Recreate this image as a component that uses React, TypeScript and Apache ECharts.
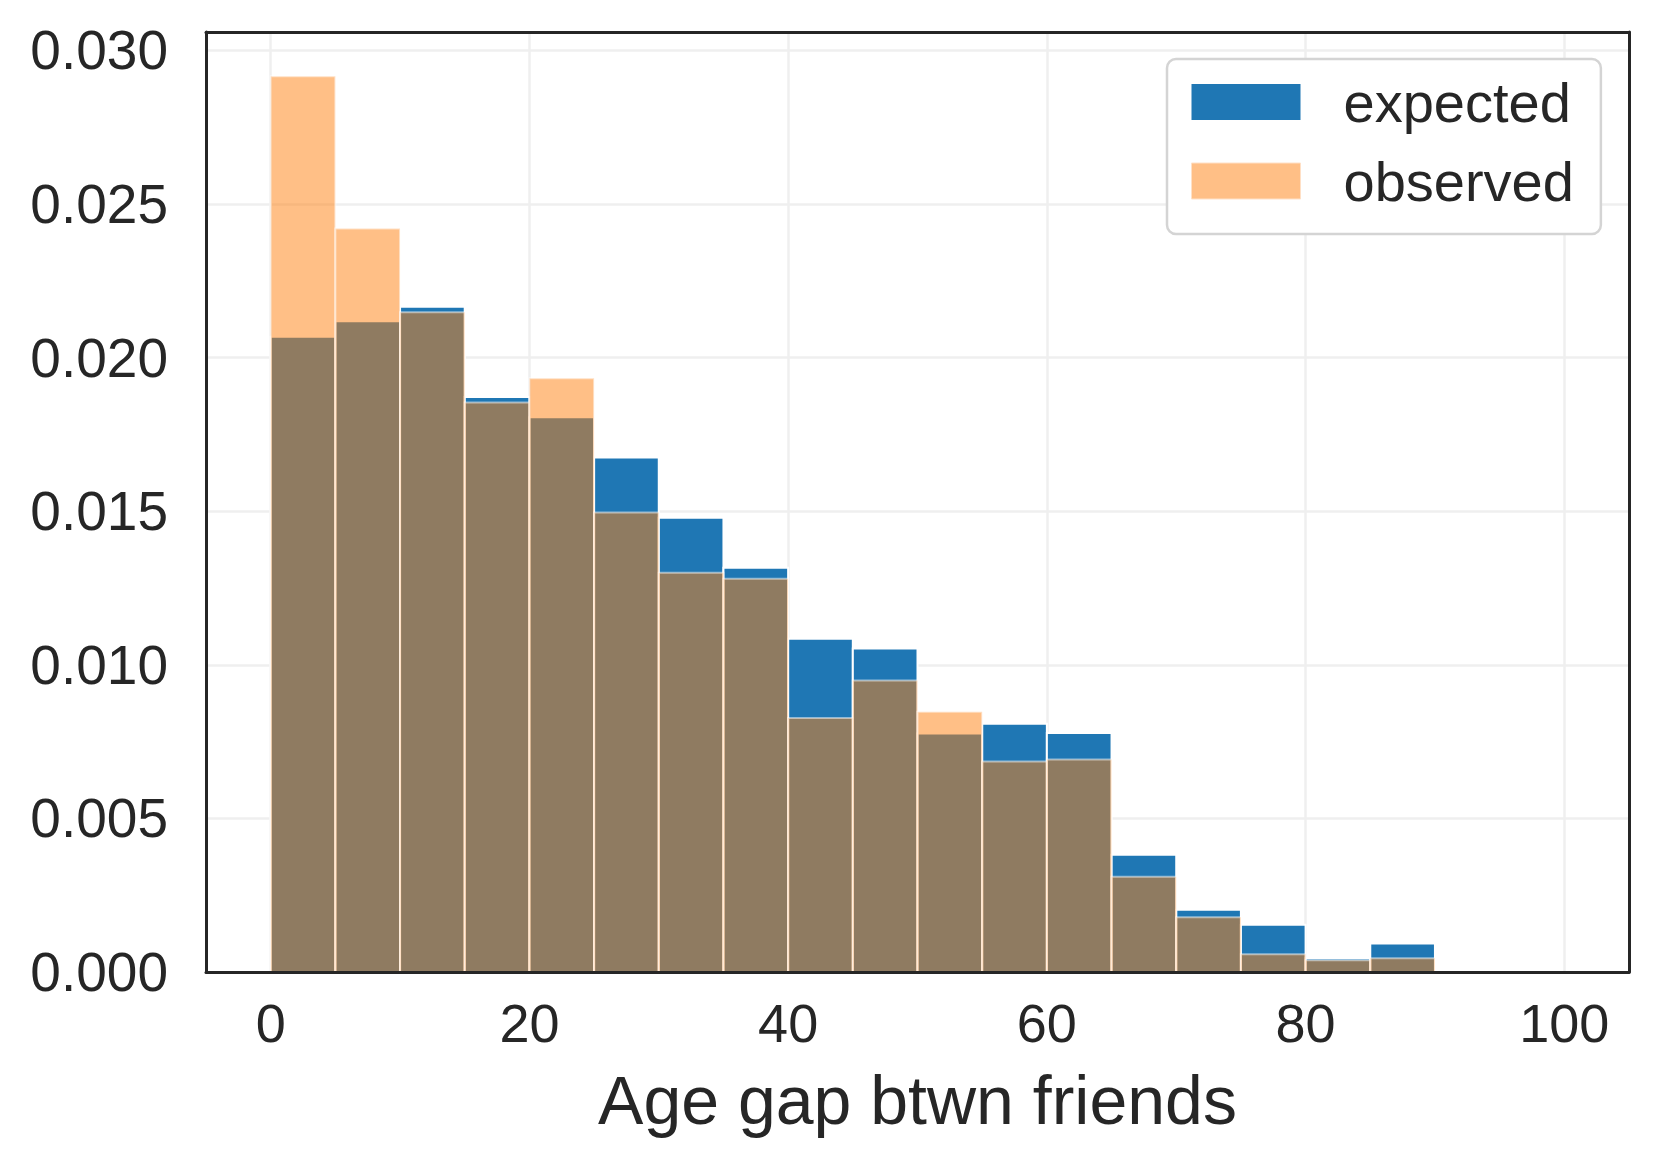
import React, { useEffect, useRef } from "react";
import * as echarts from "echarts";

// Histogram bins: left edges (width 5)
const binEdges = [0, 5, 10, 15, 20, 25, 30, 35, 40, 45, 50, 55, 60, 65, 70, 75, 80, 85, 90, 95];
const binWidth = 5;
const expected = [
  0.02068, 0.02118, 0.02166, 0.01872, 0.01806, 0.01675, 0.01479, 0.01316, 0.01085, 0.01053,
  0.00776, 0.00808, 0.00778, 0.00382, 0.00203, 0.00154, 0.00045, 0.00093, 0, 0,
];
const observed = [
  0.02916, 0.0242, 0.02148, 0.01854, 0.01933, 0.01496, 0.013, 0.0128, 0.00827, 0.00949,
  0.00847, 0.00685, 0.00692, 0.0031, 0.00178, 0.00058, 0.00038, 0.00045, 0, 0,
];
const xTicks = [0, 20, 40, 60, 80, 100];
const yTickStep = 0.005;
const seriesNames = ["expected", "observed"];

const FONT = "'Liberation Sans', Arial, Helvetica, sans-serif";
const TEXT = "#262626";
const GRIDC = "#efefef";

function makeRender(fill: string, stroke: string) {
  return (params: any, api: any) => {
    const x0 = api.value(0);
    const v = api.value(1);
    if (!v) return null;
    const p0 = api.coord([x0, v]);
    const p1 = api.coord([x0 + binWidth, 0]);
    return {
      type: "rect",
      shape: { x: p0[0], y: p0[1], width: p1[0] - p0[0], height: p1[1] - p0[1] },
      style: { fill, stroke, lineWidth: 2 },
    };
  };
}

const frameLine = { show: true, onZero: false, lineStyle: { color: TEXT, width: 3 } };

export default function App() {
  const ref = useRef<HTMLDivElement>(null);
  useEffect(() => {
    if (!ref.current) return;
    const chart = echarts.init(ref.current, null, { renderer: "svg" });
    const expData = binEdges.map((e, i) => [e, expected[i]]);
    const obsData = binEdges.map((e, i) => [e, observed[i]]);
    chart.setOption({
      animation: false,
      backgroundColor: "#ffffff",
      textStyle: { fontFamily: FONT },
      grid: {
        left: 206,
        right: 30,
        top: 32,
        bottom: 199,
        show: false,
      },
      legend: {
        orient: "vertical",
        left: 1167,
        top: 59,
        padding: [15, 27, 25, 24],
        itemGap: 23,
        itemWidth: 109,
        itemHeight: 36,
        icon: "rect",
        backgroundColor: "#ffffff",
        borderColor: "#d4d4d4",
        borderWidth: 2.5,
        borderRadius: 9,
        formatter: (name: string) => `{g|}${name}`,
        textStyle: {
          fontSize: 56,
          lineHeight: 56,
          color: TEXT,
          fontFamily: FONT,
          rich: { g: { width: 38, height: 10 } },
        },
        data: [
          { name: seriesNames[0], itemStyle: { color: "#1f77b4" } },
          { name: seriesNames[1], itemStyle: { color: "#ffbf86", borderColor: "#ffe0c6", borderWidth: 1 } },
        ],
      },
      xAxis: [
        {
          type: "value",
          min: -5,
          max: 105,
          z: 5,
          axisLine: frameLine,
          axisTick: { show: false, customValues: xTicks },
          axisLabel: {
            customValues: xTicks,
            fontSize: 54,
            color: TEXT,
            margin: 24,
            fontFamily: FONT,
          },
          splitLine: { show: false },
          name: "Age gap btwn friends",
          nameLocation: "middle",
          nameGap: 94,
          nameTextStyle: { fontSize: 68, color: TEXT, fontFamily: FONT },
        },
        {
          type: "value",
          position: "top",
          min: -5,
          max: 105,
          axisLine: frameLine,
          axisTick: { show: false, customValues: xTicks },
          axisLabel: { show: false, customValues: xTicks },
          splitLine: { show: true, lineStyle: { color: GRIDC, width: 2.5 } },
        },
      ],
      yAxis: [
        {
          type: "value",
          min: 0,
          max: 0.0306,
          interval: yTickStep,
          axisLine: frameLine,
          axisTick: { show: false },
          axisLabel: {
            fontSize: 55,
            color: TEXT,
            margin: 38,
            fontFamily: FONT,
            showMaxLabel: false,
            formatter: (v: number) => v.toFixed(3),
          },
          splitLine: { show: true, lineStyle: { color: GRIDC, width: 2.5 } },
        },
        {
          type: "value",
          position: "right",
          min: 0,
          max: 0.0306,
          interval: yTickStep,
          axisLine: frameLine,
          axisTick: { show: false },
          axisLabel: { show: false },
          splitLine: { show: false },
        },
      ],
      series: [
        {
          name: seriesNames[0],
          type: "custom",
          renderItem: makeRender("#1f77b4", "#ffffff"),
          itemStyle: { color: "#1f77b4" },
          encode: { x: 0, y: 1 },
          data: expData,
          z: 2,
        },
        {
          name: seriesNames[1],
          type: "custom",
          renderItem: makeRender("rgba(255,127,14,0.5)", "rgba(255,255,255,0.5)"),
          itemStyle: { color: "#ffbf86" },
          encode: { x: 0, y: 1 },
          data: obsData,
          z: 3,
        },
      ],
    });
    return () => chart.dispose();
  }, []);
  return (
    <div
      ref={ref}
      style={{ position: "fixed", left: 0, top: 0, width: 1659, height: 1171, background: "#fff" }}
    />
  );
}
